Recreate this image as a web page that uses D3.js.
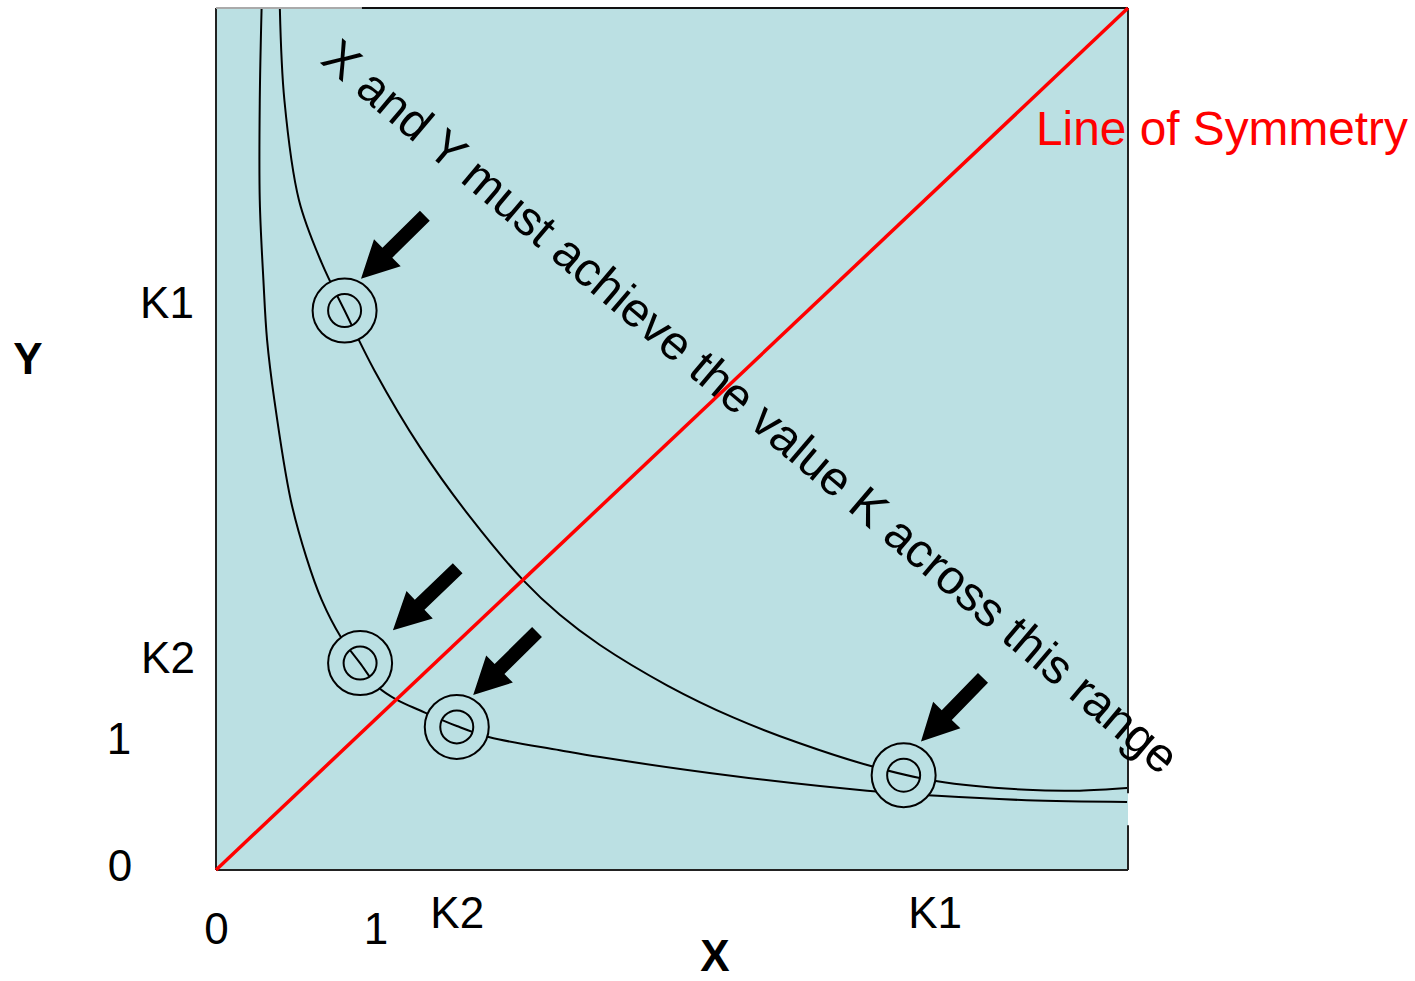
<!DOCTYPE html>
<html lang="en">
<head>
<meta charset="utf-8">
<title>Line of Symmetry</title>
<script src="https://d3js.org/d3.v7.min.js"></script>
<style>
  body { margin: 0; background: white; }
  svg { display: block; font-family: "Liberation Sans", Arial, Helvetica, sans-serif; }
  .tick text { font-size: 44px; fill: black; }
</style>
</head>
<body>
<svg id="chart" width="1415" height="981"></svg>
<script>
// ---- data (arbitrary units, 0..100 on both axes) ----
const outerCurve = [
  [7.0, 100], [7.5, 89.3], [9.1, 77.7], [11.6, 70.4], [14.1, 64.9], [17.4, 57.9],
  [22.4, 49.0], [27.9, 40.9], [33.7, 33.6], [37.7, 29.6], [42.1, 26.1], [49.5, 21.4],
  [56.7, 17.7], [64.0, 14.7], [72.0, 12.0], [79.1, 10.3], [88.9, 9.3], [94.7, 9.2],
  [99.9, 9.5]
];
const innerCurve = [
  [5.0, 100], [4.8, 89.3], [4.8, 77.7], [5.2, 68.4], [5.6, 61.5], [6.4, 54.5],
  [8.2, 42.9], [9.9, 36.3], [11.6, 31.3], [13.7, 27.0], [15.8, 24.0], [17.8, 21.2],
  [19.9, 19.7], [22.4, 18.5], [26.4, 16.7], [30.0, 15.4], [37.7, 13.9], [42.1, 13.1],
  [56.7, 10.9], [71.4, 9.2], [79.1, 8.6], [88.9, 8.1], [99.9, 7.9]
];
const symLine = [[0, 0], [100, 100]];

// marked points on the curves
const marks = [[14.1, 64.9], [15.8, 24.0], [26.4, 16.6], [75.4, 11.0]];
// arrows: tail and tip
const arrowTails = [[22.9, 75.9], [26.5, 35.0], [35.2, 27.6], [84.1, 22.3]];
const arrowTips  = [[15.9, 68.6], [19.4, 27.8], [28.2, 20.3], [77.3, 14.9]];

const xTickValues = [0, 17.5, 26.4, 78.8];
const xTickLabels = ["0", "1", "K2", "K1"];
const yTickValues = [0, 15.4, 24.8, 65.9];
const yTickLabels = ["0", "1", "K2", "K1"];

// ---- layout ----
const plot = { left: 216, right: 1128, top: 8, bottom: 870 };
const bg = "rgb(187,224,227)";
const xLabelDrop = [74, 74, 58, 58];      // baseline below plot bottom
const yLabelShift = [-96, -97, -48, -49]; // label centre left of plot
const yLabelNudge = [-6, 0, 0, 0];

const svg = d3.select("#chart");

const x = d3.scaleLinear().domain([0, 100]).range([plot.left, plot.right]);
const y = d3.scaleLinear().domain([0, 100]).range([plot.bottom, plot.top]);

// background
svg.append("rect")
  .attr("x", x(0)).attr("y", y(100))
  .attr("width", x(100) - x(0)).attr("height", y(0) - y(100))
  .attr("fill", bg);

const defs = svg.append("defs");
defs.append("clipPath").attr("id", "plotClip")
  .append("rect")
  .attr("x", x(0)).attr("y", y(100))
  .attr("width", x(100) - x(0)).attr("height", y(0) - y(100));

// inner discs of the markers, to show the curve running through them
const innerClip = defs.append("clipPath").attr("id", "innerClip");
innerClip.selectAll("circle").data(marks).join("circle")
  .attr("cx", d => x(d[0])).attr("cy", d => y(d[1])).attr("r", 16.5);

const line = d3.line().x(d => x(d[0])).y(d => y(d[1])).curve(d3.curveCatmullRom.alpha(0.5));

const curves = svg.append("g").attr("clip-path", "url(#plotClip)");
curves.selectAll("path").data([outerCurve, innerCurve]).join("path")
  .attr("d", line).attr("fill", "none").attr("stroke", "black").attr("stroke-width", 2);

// frame
const frame = svg.append("g").attr("stroke-width", 2).attr("fill", "none");
frame.append("line").attr("x1", x(0)).attr("x2", x(0)).attr("y1", y(100)).attr("y2", y(0)).attr("stroke", "#222");
frame.append("line").attr("x1", x(0)).attr("x2", x(100)).attr("y1", y(0)).attr("y2", y(0)).attr("stroke", "#222");
frame.append("line").attr("x1", x(0)).attr("x2", x(16)).attr("y1", y(100)).attr("y2", y(100)).attr("stroke", "#aaa");
frame.append("line").attr("x1", x(16)).attr("x2", x(100)).attr("y1", y(100)).attr("y2", y(100)).attr("stroke", "#111");
frame.append("line").attr("x1", x(100)).attr("x2", x(100)).attr("y1", y(100)).attr("y2", y(8.9)).attr("stroke", "#222");
frame.append("line").attr("x1", x(100)).attr("x2", x(100)).attr("y1", y(5.2)).attr("y2", y(0)).attr("stroke", "#222");

// markers: outer ring hides the curve, inner ring shows it again
svg.append("g").selectAll("circle").data(marks).join("circle")
  .attr("cx", d => x(d[0])).attr("cy", d => y(d[1])).attr("r", 32)
  .attr("fill", bg).attr("stroke", "black").attr("stroke-width", 2);

svg.append("g").attr("clip-path", "url(#innerClip)")
  .selectAll("path").data([outerCurve, innerCurve]).join("path")
  .attr("d", line).attr("fill", "none").attr("stroke", "black").attr("stroke-width", 2);

svg.append("g").selectAll("circle").data(marks).join("circle")
  .attr("cx", d => x(d[0])).attr("cy", d => y(d[1])).attr("r", 16.5)
  .attr("fill", "none").attr("stroke", "black").attr("stroke-width", 2);

// arrows
function arrowPath(t, h) {
  const tx = x(t[0]), ty = y(t[1]), hx = x(h[0]), hy = y(h[1]);
  const len = Math.hypot(hx - tx, hy - ty);
  const ux = (hx - tx) / len, uy = (hy - ty) / len;
  const nx = -uy, ny = ux;
  const sw = 7, hw = 19, hl = 37;
  const bx = hx - ux * hl, by = hy - uy * hl;
  const p = [
    [tx + nx * sw, ty + ny * sw], [bx + nx * sw, by + ny * sw], [bx + nx * hw, by + ny * hw],
    [hx, hy],
    [bx - nx * hw, by - ny * hw], [bx - nx * sw, by - ny * sw], [tx - nx * sw, ty - ny * sw]
  ];
  return "M" + p.map(q => q.join(",")).join("L") + "Z";
}
svg.append("g").selectAll("path").data(arrowTails).join("path")
  .attr("d", (d, i) => arrowPath(d, arrowTips[i]))
  .attr("fill", "black");

// rotated annotation
svg.append("text")
  .attr("transform", "translate(319,62) rotate(40.3)")
  .attr("font-size", 48.3)
  .attr("fill", "black")
  .text("X and Y must achieve the value K across this range");

// line of symmetry
svg.append("path").datum(symLine)
  .attr("d", d3.line().x(d => x(d[0])).y(d => y(d[1])))
  .attr("stroke", "#ff0000").attr("stroke-width", 3.5).attr("fill", "none");

svg.append("text")
  .attr("x", 1036).attr("y", 145)
  .attr("font-size", 47.8).attr("fill", "#ff0000")
  .text("Line of Symmetry");

// axes
const xAxis = svg.append("g")
  .attr("transform", `translate(0,${y(0)})`)
  .call(d3.axisBottom(x).tickValues(xTickValues).tickFormat((d, i) => xTickLabels[i]).tickSize(0));
xAxis.select(".domain").remove();
xAxis.selectAll(".tick text")
  .attr("y", (d, i) => xLabelDrop[i]).attr("dy", 0)
  .attr("font-family", null).attr("font-size", null);

const yAxis = svg.append("g")
  .attr("transform", `translate(${x(0)},0)`)
  .call(d3.axisLeft(y).tickValues(yTickValues).tickFormat((d, i) => yTickLabels[i]).tickSize(0));
yAxis.select(".domain").remove();
yAxis.selectAll(".tick text")
  .attr("x", (d, i) => yLabelShift[i]).attr("text-anchor", "middle")
  .attr("dy", (d, i) => 16 + yLabelNudge[i])
  .attr("font-family", null).attr("font-size", null);

// axis titles
svg.append("text").attr("x", 715).attr("y", 971)
  .attr("text-anchor", "middle").attr("font-size", 44).attr("font-weight", "bold")
  .text("X");
svg.append("text").attr("x", 28).attr("y", 374)
  .attr("text-anchor", "middle").attr("font-size", 44).attr("font-weight", "bold")
  .text("Y");
</script>
</body>
</html>
